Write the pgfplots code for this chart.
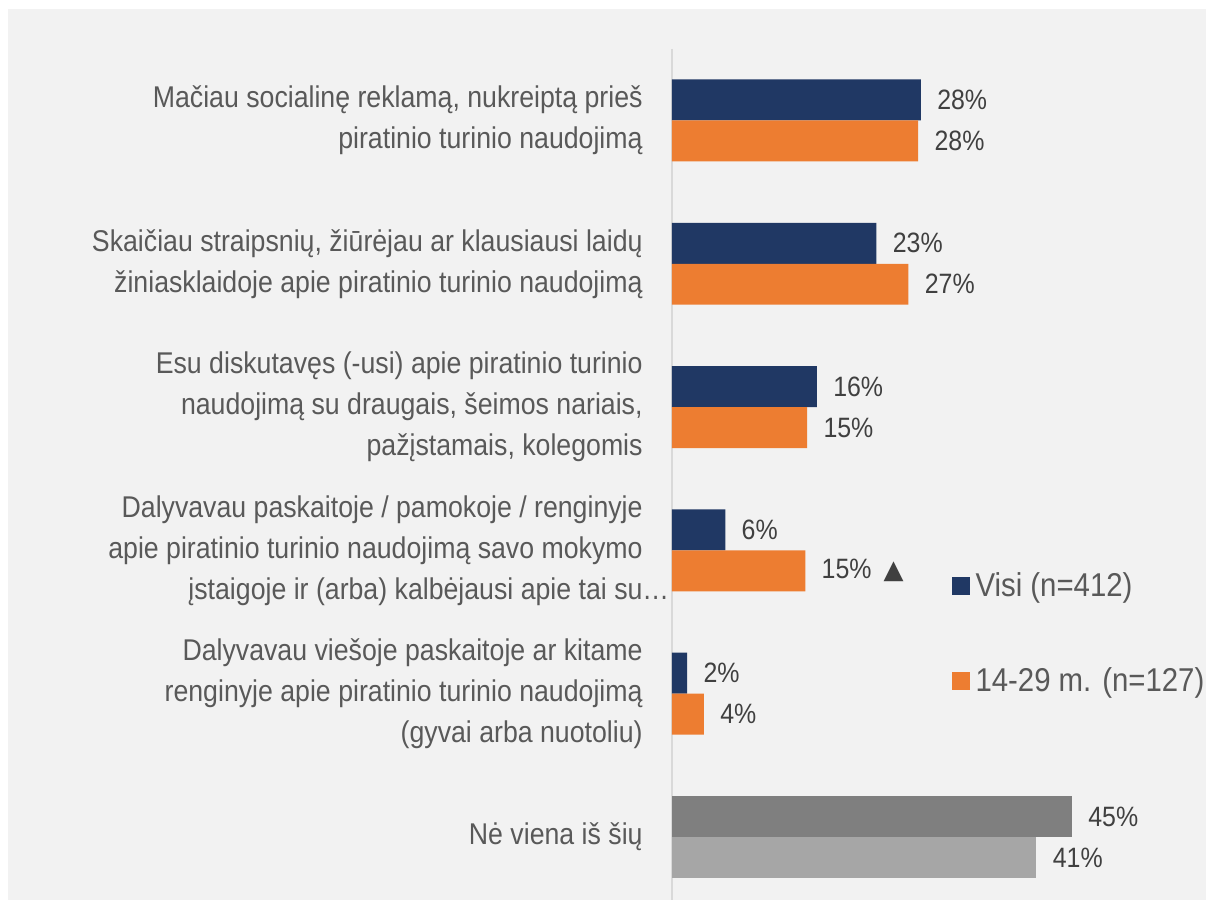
\documentclass[border=0pt]{standalone}
\usepackage{fontspec}
\setmainfont[FakeStretch=0.89]{Liberation Sans}
\newfontfamily\dejavu{DejaVu Sans}
\usepackage{pgfplots}
\pgfplotsset{compat=1.18}
\definecolor{navy}{HTML}{203864}
\definecolor{orng}{HTML}{ED7D31}
\definecolor{gdark}{HTML}{7F7F7F}
\definecolor{glight}{HTML}{A6A6A6}
\definecolor{bg}{HTML}{F2F2F2}
\definecolor{axline}{HTML}{D9D9D9}
\definecolor{txt}{HTML}{595959}
\definecolor{lbl}{HTML}{404040}
\begin{document}
\begin{tikzpicture}
\path[use as bounding box] (-336pt,0pt) rectangle (267pt,450pt);
\fill[bg] (-332pt,0pt) rectangle (267pt,445.5pt);
\begin{axis}[
  at={(0pt,0pt)}, anchor=south west,
  scale only axis,
  width=266.67pt, height=425.6pt,
  xmin=0, xmax=60,
  ymin=-0.5, ymax=5.44,
  y dir=reverse,
  axis x line=none,
  axis y line=left,
  y axis line style={draw=axline, line width=1pt, -},
  ytick={0,1,2,3,4,5},
  major tick length=0pt,
  ytick style={draw=none},
  yticklabels={
    {Mačiau socialinę reklamą, nukreiptą prieš\\piratinio turinio naudojimą},
    {Skaičiau straipsnių, žiūrėjau ar klausiausi laidų\\žiniasklaidoje apie piratinio turinio naudojimą},
    {Esu diskutavęs (-usi) apie piratinio turinio\\naudojimą su draugais, šeimos nariais,\\pažįstamais, kolegomis},
    {Dalyvavau paskaitoje / pamokoje / renginyje\\apie piratinio turinio naudojimą savo mokymo\\įstaigoje ir (arba) kalbėjausi apie tai su\rlap{…}},
    {Dalyvavau viešoje paskaitoje ar kitame\\renginyje apie piratinio turinio naudojimą\\(gyvai arba nuotoliu)},
    {Nė viena iš šių}
  },
  yticklabel style={align=right, inner sep=0pt, xshift=-14.5pt, text=txt,
    font=\fontsize{15}{20.5}\selectfont},
  every axis plot/.append style={xbar, bar shift=0pt, bar width=0.286, draw=none},
  point meta=explicit symbolic,
  nodes near coords,
  every node near coord/.append style={anchor=west, inner sep=0pt, xshift=8pt,
    text=lbl, font=\fontsize{14}{16}\selectfont},
  legend style={at={(axis cs:31.4,3.58)}, anchor=west, draw=none, fill=none,
    inner sep=0pt, row sep=28pt, text=txt,
    font=\fontsize{16.5}{18}\selectfont,
    nodes={inner sep=3pt}},
  legend cell align=left,
  legend image code/.code={\fill[#1] (0pt,-4.5pt) rectangle (9pt,4.5pt);},
  clip=false,
]
\addplot[fill=navy] coordinates {
  (28.0,-0.143) [28\%]
  (23.0,0.857) [23\%]
  (16.3,1.857) [16\%]
  (6.0,2.857) [6\%]
  (1.7,3.857) [2\%]
};
\addlegendentry{Visi (n=412)}
\addplot[fill=orng] coordinates {
  (27.7,0.143) [28\%]
  (26.6,1.143) [27\%]
  (15.2,2.143) [15\%]
  (15.0,3.143) [{15\%\hspace{6pt}{\dejavu\fontsize{13}{14}\selectfont ▲}}]
  (3.6,4.143) [4\%]
};
\addlegendentry{14-29 m. (n=127)}
\addplot[fill=gdark, forget plot] coordinates {
  (45.0,4.857) [45\%]
};
\addplot[fill=glight, forget plot] coordinates {
  (41.0,5.143) [41\%]
};
\end{axis}
\end{tikzpicture}
\end{document}
